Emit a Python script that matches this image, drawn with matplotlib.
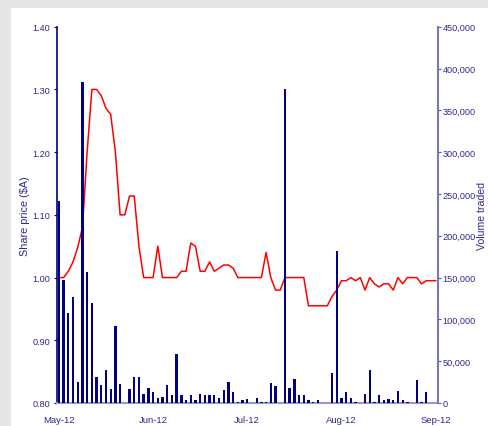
import matplotlib
matplotlib.use("Agg")
import matplotlib.pyplot as plt
import matplotlib.ticker as mticker
from matplotlib.patches import Rectangle
import numpy as np

# daily share price ($A), one value per trading day
price = [1.00, 1.00, 1.01, 1.025, 1.048, 1.08, 1.20, 1.30, 1.30, 1.29,
         1.27, 1.26, 1.20, 1.10, 1.10, 1.13, 1.13, 1.05, 1.00, 1.00,
         1.00, 1.05, 1.00, 1.00, 1.00, 1.00, 1.01, 1.01, 1.055, 1.05,
         1.01, 1.01, 1.025, 1.01, 1.015, 1.02, 1.02, 1.015, 1.00, 1.00,
         1.00, 1.00, 1.00, 1.00, 1.04, 1.00, 0.98, 0.98, 1.00, 1.00,
         1.00, 1.00, 1.00, 0.955, 0.955, 0.955, 0.955, 0.955, 0.97, 0.98,
         0.995, 0.995, 1.00, 0.995, 1.00, 0.98, 1.00, 0.99, 0.985, 0.99,
         0.99, 0.98, 1.00, 0.99, 1.00, 1.00, 1.00, 0.99, 0.995, 0.995,
         0.995]

# daily volume traded
volume = [242000, 147000, 108000, 127000, 25000, 384000, 157000, 120000, 31000, 22000,
          39000, 17000, 92000, 23000, 0, 17000, 31000, 31000, 11000, 18500,
          13500, 6500, 7600, 22000, 10000, 58000, 9000, 4000, 9000, 4000,
          11000, 9000, 9000, 9000, 6500, 16000, 25500, 13500, 1500, 4000,
          5000, 0, 6500, 1500, 1000, 24000, 20700, 0, 375000, 18000,
          29000, 10000, 9000, 4000, 1500, 4000, 0, 0, 36000, 182000,
          6500, 13000, 6500, 1500, 0, 11000, 40000, 1500, 9000, 4000,
          5000, 4000, 14700, 4000, 1500, 0, 28000, 1500, 13000, 0,
          0]

month_ticks = [0, 20, 40, 60, 80]
month_labels = ['May-12', 'Jun-12', 'Jul-12', 'Aug-12', 'Sep-12']

plt.rcParams['font.family'] = ['Liberation Sans', 'DejaVu Sans']
navy = '#000080'
txt = '#2b2b8c'

fig = plt.figure(figsize=(4.88, 4.27), dpi=100, facecolor='#e6e6e6')
fig.patches.append(Rectangle((11 / 488, 0), 1, 1 - 9 / 427, transform=fig.transFigure,
                             facecolor='white', edgecolor='none', zorder=-5))

ax = fig.add_axes([57 / 488, 23 / 427, 381 / 488, 376.3 / 427])
ax.patch.set_visible(False)
x = np.arange(len(price))
ax.plot(x, price, color='#ff0000', linewidth=1.1)
ax.set_ylim(0.80, 1.40)
ax.set_yticks(np.arange(0.80, 1.401, 0.10))
ax.yaxis.set_major_formatter(mticker.FormatStrFormatter('%.2f'))
ax.set_xlim(-0.4, 80.5)
ax.set_xticks(month_ticks)
ax.set_xticklabels(month_labels)
ax.set_ylabel('Share price ($A)', color=txt, fontsize=7.8)
ax.yaxis.set_label_coords(-0.072, 0.5)

ax2 = ax.twinx()
ax2.patch.set_visible(False)
ax2.bar(x, volume, width=0.5, color=navy, zorder=3)
ax2.set_ylim(0, 450000)
ax2.set_yticks(np.arange(0, 450001, 50000))
ax2.yaxis.set_major_formatter(mticker.FuncFormatter(lambda v, p: f'{int(v):,}'))
ax2.set_ylabel('Volume traded', color=txt, fontsize=7.6, rotation=90)
ax2.yaxis.set_label_coords(1.103, 0.5)

for a in (ax, ax2):
    a.spines['top'].set_visible(False)
    a.tick_params(axis='y', colors=txt, labelsize=6.6, length=2.3, width=0.8, direction='out', pad=2.5)
ax.tick_params(axis='y', color=navy)
ax.tick_params(axis='x', colors=txt, labelsize=6.8, length=0, pad=9)
ax2.tick_params(axis='y', color='#5555aa', pad=1)
ax.spines['left'].set_color(navy)
ax.spines['left'].set_linewidth(1.2)
ax.spines['right'].set_visible(False)
ax.spines['bottom'].set_color('#9999cc')
ax.spines['bottom'].set_linewidth(1.5)
ax2.spines['left'].set_visible(False)
ax2.spines['bottom'].set_visible(False)
ax2.spines['right'].set_color('#7777bb')
ax2.spines['right'].set_linewidth(1.5)

fig.savefig('out.png', dpi=100, facecolor=fig.get_facecolor())
